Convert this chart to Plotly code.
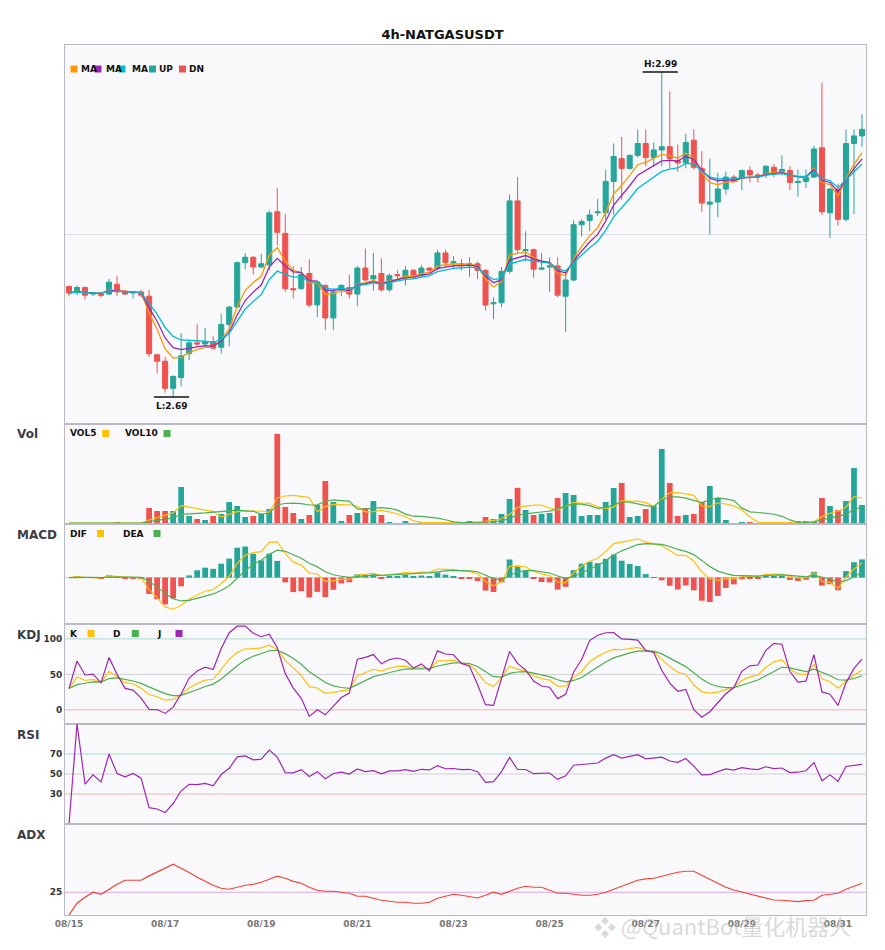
import numpy as np
import pandas as pd
import plotly.graph_objects as go
from plotly.subplots import make_subplots

# 4h candles, 08/15 00:00 -> 08/31 12:00
dates = pd.date_range("2023-08-15 00:00", periods=100, freq="4h")

open_ = [2.792, 2.787, 2.791, 2.785, 2.785, 2.785, 2.794, 2.787, 2.786, 2.787,
         2.783, 2.729, 2.723, 2.698, 2.708, 2.730, 2.740, 2.739, 2.741, 2.736,
         2.757, 2.773, 2.814, 2.819, 2.810, 2.812, 2.861, 2.841, 2.790, 2.790,
         2.804, 2.775, 2.793, 2.763, 2.789, 2.791, 2.785, 2.809, 2.799, 2.804,
         2.789, 2.803, 2.800, 2.807, 2.802, 2.809, 2.809, 2.823, 2.814, 2.813,
         2.812, 2.813, 2.807, 2.776, 2.777, 2.806, 2.871, 2.825, 2.826, 2.808,
         2.810, 2.811, 2.783, 2.798, 2.849, 2.853, 2.860, 2.860, 2.889, 2.910,
         2.901, 2.913, 2.924, 2.911, 2.918, 2.921, 2.908, 2.906, 2.927, 2.901,
         2.868, 2.870, 2.882, 2.893, 2.892, 2.899, 2.895, 2.895, 2.902, 2.898,
         2.899, 2.888, 2.889, 2.893, 2.920, 2.860, 2.882, 2.854, 2.924, 2.931]

high = [2.793, 2.793, 2.792, 2.787, 2.787, 2.799, 2.802, 2.789, 2.788, 2.789,
        2.789, 2.730, 2.727, 2.710, 2.749, 2.743, 2.757, 2.754, 2.746, 2.767,
        2.774, 2.815, 2.823, 2.820, 2.822, 2.862, 2.883, 2.859, 2.811, 2.810,
        2.817, 2.797, 2.794, 2.790, 2.794, 2.803, 2.811, 2.827, 2.823, 2.818,
        2.804, 2.807, 2.811, 2.808, 2.812, 2.810, 2.826, 2.826, 2.820, 2.817,
        2.819, 2.815, 2.808, 2.782, 2.810, 2.877, 2.893, 2.843, 2.827, 2.823,
        2.819, 2.819, 2.805, 2.853, 2.854, 2.863, 2.873, 2.900, 2.924, 2.930,
        2.914, 2.937, 2.937, 2.925, 2.990, 2.972, 2.923, 2.933, 2.937, 2.917,
        2.910, 2.897, 2.898, 2.895, 2.900, 2.903, 2.897, 2.904, 2.905, 2.913,
        2.903, 2.900, 2.900, 2.922, 2.980, 2.883, 2.887, 2.937, 2.937, 2.951]

low = [2.783, 2.784, 2.780, 2.783, 2.782, 2.784, 2.783, 2.784, 2.781, 2.782,
       2.727, 2.712, 2.694, 2.690, 2.700, 2.724, 2.737, 2.737, 2.734, 2.730,
       2.737, 2.772, 2.808, 2.803, 2.809, 2.807, 2.830, 2.787, 2.781, 2.789,
       2.773, 2.764, 2.752, 2.752, 2.783, 2.781, 2.774, 2.797, 2.788, 2.787,
       2.787, 2.798, 2.793, 2.800, 2.801, 2.806, 2.807, 2.810, 2.809, 2.807,
       2.801, 2.799, 2.770, 2.762, 2.773, 2.804, 2.823, 2.815, 2.800, 2.807,
       2.787, 2.782, 2.750, 2.797, 2.838, 2.843, 2.857, 2.854, 2.858, 2.872,
       2.900, 2.911, 2.903, 2.903, 2.903, 2.901, 2.898, 2.901, 2.900, 2.861,
       2.840, 2.856, 2.877, 2.888, 2.881, 2.888, 2.888, 2.892, 2.893, 2.895,
       2.881, 2.875, 2.883, 2.892, 2.858, 2.837, 2.848, 2.852, 2.859, 2.921]

close = [2.786, 2.791, 2.784, 2.786, 2.784, 2.796, 2.787, 2.785, 2.787, 2.784,
         2.730, 2.723, 2.698, 2.709, 2.728, 2.740, 2.739, 2.741, 2.735, 2.757,
         2.773, 2.814, 2.819, 2.810, 2.813, 2.860, 2.842, 2.790, 2.789, 2.803,
         2.775, 2.796, 2.763, 2.787, 2.793, 2.785, 2.809, 2.798, 2.802, 2.789,
         2.802, 2.802, 2.807, 2.801, 2.809, 2.807, 2.823, 2.814, 2.815, 2.812,
         2.813, 2.807, 2.775, 2.777, 2.806, 2.871, 2.826, 2.826, 2.808, 2.809,
         2.811, 2.784, 2.798, 2.849, 2.852, 2.858, 2.861, 2.889, 2.912, 2.901,
         2.913, 2.924, 2.911, 2.918, 2.921, 2.910, 2.906, 2.925, 2.902, 2.869,
         2.870, 2.882, 2.893, 2.889, 2.899, 2.895, 2.893, 2.903, 2.898, 2.900,
         2.888, 2.889, 2.893, 2.919, 2.861, 2.882, 2.854, 2.924, 2.931, 2.937]

volume = [1000, 1000, 700, 700, 300, 1000, 2000, 700, 700, 700,
          16000, 13000, 13000, 13000, 37000, 8000, 5000, 4000, 8000, 10000,
          22000, 18000, 7000, 8000, 10000, 15000, 90000, 17000, 11000, 5000,
          9000, 19000, 43000, 22000, 3000, 9000, 11000, 16000, 23000, 9000,
          2000, 700, 3000, 1000, 1700, 700, 1000, 700, 700, 1700,
          3000, 1000, 7000, 5000, 10000, 25000, 36000, 14000, 9000, 10000,
          11000, 26000, 31000, 29000, 8000, 9000, 9000, 22000, 36000, 41000,
          7000, 8000, 15000, 18000, 75000, 41000, 8000, 9000, 10000, 22000,
          38000, 26000, 4000, 700, 2000, 2000, 1000, 1000, 1000, 1000,
          2000, 3000, 3000, 3000, 26000, 18000, 14000, 23000, 56000, 19000]

# ADX
adx = [0, 12.9, 19.5, 25.0, 22.8, 28.3, 33.8, 38.2, 38.2, 38.2,
       43.0, 47.0, 51.5, 55.9, 51.5, 46.7, 41.5, 36.8, 32.7, 29.4,
       28.3, 30.5, 32.7, 33.8, 36.0, 39.3, 42.7, 40.4, 37.0, 34.9,
       30.5, 27.2, 26.1, 26.1, 25.0, 23.9, 20.6, 20.6, 18.4, 16.2,
       15.1, 14.0, 14.0, 12.9, 12.9, 14.0, 18.4, 20.9, 22.8, 21.7,
       20.6, 18.7, 21.7, 25.0, 22.8, 26.1, 29.4, 31.6, 30.5, 30.5,
       27.2, 23.9, 23.9, 22.8, 21.7, 21.7, 22.8, 25.0, 28.3, 31.6,
       34.9, 38.2, 39.7, 40.4, 42.6, 44.8, 47.0, 48.1, 48.1, 43.7,
       39.3, 34.9, 30.5, 27.5, 25.4, 23.1, 20.9, 18.7, 16.5, 16.2,
       15.4, 14.7, 15.8, 16.2, 21.7, 22.8, 23.9, 28.3, 31.6, 34.9]

UP = "#26a69a"
DN = "#ef5350"
YEL = "#ffc107"
GRN = "#4caf50"
PUR = "#9c27b0"
FONT = "DejaVu Sans"

idx = list(range(len(close)))
h = pd.Series(high)
l = pd.Series(low)
c = pd.Series(close)
v = pd.Series(volume)

# moving averages
ma1 = c.ewm(span=5, adjust=False).mean()
ma2 = c.ewm(span=7, adjust=False).mean()
ma3 = c.ewm(span=10, adjust=False).mean()
vol5 = v.rolling(5, min_periods=1).mean()
vol10 = v.rolling(10, min_periods=1).mean()

# macd (short settings, histogram doubled)
dif = c.ewm(span=6, adjust=False).mean() - c.ewm(span=13, adjust=False).mean()
dea = dif.ewm(span=5, adjust=False).mean()
hist = 2 * (dif - dea)

# kdj
llv = l.rolling(9, min_periods=1).min()
hhv = h.rolling(9, min_periods=1).max()
rsv = ((c - llv) / (hhv - llv) * 100).fillna(50)
k = rsv.ewm(alpha=1/3, adjust=False).mean()
d = k.ewm(alpha=1/3, adjust=False).mean()
j = 3 * k - 2 * d

# rsi
delta = c.diff()
ag = delta.clip(lower=0).ewm(alpha=1/14).mean()
al = (-delta).clip(lower=0).ewm(alpha=1/14).mean()
rsi = (100 - 100 / (1 + ag / al)).fillna(0)

bar_cols = [UP if cc >= oo else DN for oo, cc in zip(open_, close)]
hist_cols = [UP if x >= 0 else DN for x in hist]

fig = make_subplots(rows=6, cols=1, shared_xaxes=True, vertical_spacing=0,
                    row_heights=[379, 100, 100, 100, 100, 91])

fig.add_trace(go.Candlestick(x=idx, open=open_, high=high, low=low, close=close,
                             increasing=dict(line=dict(color=UP, width=1), fillcolor=UP),
                             decreasing=dict(line=dict(color=DN, width=1), fillcolor=DN),
                             whiskerwidth=0, name="K"), row=1, col=1)
fig.add_trace(go.Scatter(x=idx, y=ma1, mode="lines", line=dict(color="#ff9800", width=1.3)), row=1, col=1)
fig.add_trace(go.Scatter(x=idx, y=ma2, mode="lines", line=dict(color=PUR, width=1.3)), row=1, col=1)
fig.add_trace(go.Scatter(x=idx, y=ma3, mode="lines", line=dict(color="#00bcd4", width=1.3)), row=1, col=1)

fig.add_trace(go.Bar(x=idx, y=volume, marker=dict(color=bar_cols, line=dict(width=0)), width=0.72), row=2, col=1)
fig.add_trace(go.Scatter(x=idx, y=vol5, mode="lines", line=dict(color=YEL, width=1.2)), row=2, col=1)
fig.add_trace(go.Scatter(x=idx, y=vol10, mode="lines", line=dict(color=GRN, width=1.2)), row=2, col=1)

fig.add_trace(go.Bar(x=idx, y=hist, marker=dict(color=hist_cols, line=dict(width=0)), width=0.72), row=3, col=1)
fig.add_trace(go.Scatter(x=idx, y=dif, mode="lines", line=dict(color=YEL, width=1.2)), row=3, col=1)
fig.add_trace(go.Scatter(x=idx, y=dea, mode="lines", line=dict(color=GRN, width=1.2)), row=3, col=1)

fig.add_trace(go.Scatter(x=idx, y=k, mode="lines", line=dict(color=YEL, width=1.2)), row=4, col=1)
fig.add_trace(go.Scatter(x=idx, y=d, mode="lines", line=dict(color=GRN, width=1.2)), row=4, col=1)
fig.add_trace(go.Scatter(x=idx, y=j, mode="lines", line=dict(color=PUR, width=1.2)), row=4, col=1)

fig.add_trace(go.Scatter(x=idx, y=rsi, mode="lines", line=dict(color=PUR, width=1.2)), row=5, col=1)
fig.add_trace(go.Scatter(x=idx, y=adx, mode="lines", line=dict(color="#f44336", width=1.2)), row=6, col=1)

# reference lines
for row, yv, col in [(3, 0, "#cfcfd4"),
                     (4, 0, "#f4b4b4"), (4, 50, "#cfcfd4"), (4, 100, "#a8dbd3"),
                     (5, 30, "#f4b4b4"), (5, 50, "#cfcfd4"), (5, 70, "#a8dbd3"),
                     (6, 25, "#dca8e4")]:
    fig.add_hline(y=yv, line=dict(color=col, width=1), layer="below", row=row, col=1)

# axes
lo, hi = min(low), max(high)
pad = (hi - lo) * 0.083
mlo = min(dif.min(), dea.min(), hist.min())
mhi = max(dif.max(), dea.max(), hist.max())
mpad = (mhi - mlo) * 0.21

tick_pos = idx[::12]
tick_txt = [dates[i].strftime("%m/%d") for i in tick_pos]
fig.update_xaxes(range=[-0.5, len(idx) - 0.5], showgrid=False, zeroline=False,
                 showline=True, mirror=True, linecolor="#b9b9c1", linewidth=1,
                 tickvals=tick_pos, ticktext=tick_txt, ticks="",
                 tickfont=dict(family=FONT, size=9, color="#777777", weight="bold"),
                 rangeslider=dict(visible=False))
fig.update_yaxes(showgrid=False, zeroline=False, showline=True, mirror=True,
                 linecolor="#b9b9c1", linewidth=1, ticks="",
                 tickfont=dict(family=FONT, size=9, color="#333333", weight="bold"))
fig.update_yaxes(range=[lo - pad, hi + pad], tickvals=[(lo + hi) / 2], showgrid=True,
                 gridcolor="#dcdce2", showticklabels=False, row=1, col=1)
fig.update_yaxes(range=[0, max(volume) * 1.11], showticklabels=False, row=2, col=1)
fig.update_yaxes(range=[mlo - mpad, mhi + mpad], showticklabels=False, row=3, col=1)
fig.update_yaxes(range=[-20, 121], tickvals=[0, 50, 100], row=4, col=1)
fig.update_yaxes(range=[0, 100], tickvals=[30, 50, 70], row=5, col=1)
fig.update_yaxes(range=[0, 100], tickvals=[25], row=6, col=1)


def px(x):
    return (x - 65) / 801


def py(y):
    return (915 - y) / 870


shapes = []
annos = []


def label(x, y, text, size=9, color="#111111"):
    annos.append(dict(x=px(x), y=py(y), xref="paper", yref="paper", text=text,
                      showarrow=False, xanchor="left", yanchor="middle",
                      font=dict(family=FONT, size=size, color=color, weight="bold")))


def square(cx, cy, color):
    shapes.append(dict(type="rect", xref="paper", yref="paper",
                       x0=px(cx - 3.5), x1=px(cx + 3.5), y0=py(cy + 3.5), y1=py(cy - 3.5),
                       fillcolor=color, line=dict(width=0)))


# main legend
for cx, tx, col, txt in [(74, 81, "#ff9800", "MA"), (98, 105.5, PUR, "MA"),
                         (122, 131.5, "#00bcd4", "MA"), (152.5, 159, UP, "UP"),
                         (182.5, 189, DN, "DN")]:
    label(tx - 2, 69, txt)
    square(cx, 69, col)

# sub-panel legends
for y0, items in [(433.5, [("VOL5", 70, 105.7, YEL), ("VOL10", 125, 167, GRN)]),
                  (533.5, [("DIF", 70, 100.5, YEL), ("DEA", 123.3, 157, GRN)]),
                  (633.5, [("K", 70, 91, YEL), ("D", 113.3, 135.3, GRN), ("J", 156.7, 179, PUR)])]:
    for txt, tx, cx, col in items:
        label(tx - 2, y0, txt)
        square(cx, y0, col)

# panel titles
for txt, y0 in [("Vol", 434), ("MACD", 535), ("KDJ", 634.5), ("RSI", 735), ("ADX", 835)]:
    label(15, y0, txt, size=12, color="#3c3c46")

# high / low marks
hi_i = int(np.argmax(high))
lo_i = int(np.argmin(low))
fig.add_shape(type="line", x0=hi_i - 2.4, x1=hi_i + 2.0, y0=high[hi_i], y1=high[hi_i],
              line=dict(color="#111111", width=1.5), row=1, col=1)
fig.add_shape(type="line", x0=lo_i - 2.4, x1=lo_i + 2.0, y0=low[lo_i], y1=low[lo_i],
              line=dict(color="#111111", width=1.5), row=1, col=1)
fig.add_annotation(x=hi_i - 0.2, y=high[hi_i], text="H:%.2f" % high[hi_i], showarrow=False,
                   yanchor="bottom", yshift=1, font=dict(family=FONT, size=9, color="#111111", weight="bold"),
                   row=1, col=1)
fig.add_annotation(x=lo_i - 0.2, y=low[lo_i], text="L:%.2f" % low[lo_i], showarrow=False,
                   yanchor="top", yshift=-2, font=dict(family=FONT, size=9, color="#111111", weight="bold"),
                   row=1, col=1)

# watermark
annos.append(dict(x=px(592), y=py(925), xref="paper", yref="paper", text="❖ @QuantBot量化机器人",
                  showarrow=False, xanchor="left", yanchor="middle",
                  font=dict(family="Noto Sans CJK SC", size=22, color="rgba(185,185,190,0.55)")))

for s in shapes:
    fig.add_shape(s)
for a in annos:
    fig.add_annotation(a)

# the page body adds an 8px offset, margins compensate for it
fig.update_layout(
    width=885, height=950,
    margin=dict(l=57, r=27, t=37, b=43),
    title=dict(text="4h-NATGASUSDT", x=434.5 / 885, xanchor="center", y=1 - 26 / 950, yanchor="middle",
               font=dict(family=FONT, size=13, color="#111111", weight="bold")),
    showlegend=False,
    plot_bgcolor="#f9f9fb",
    paper_bgcolor="white",
    bargap=0.25,
    boxgap=0.1,
)

fig.write_html("out.html")
